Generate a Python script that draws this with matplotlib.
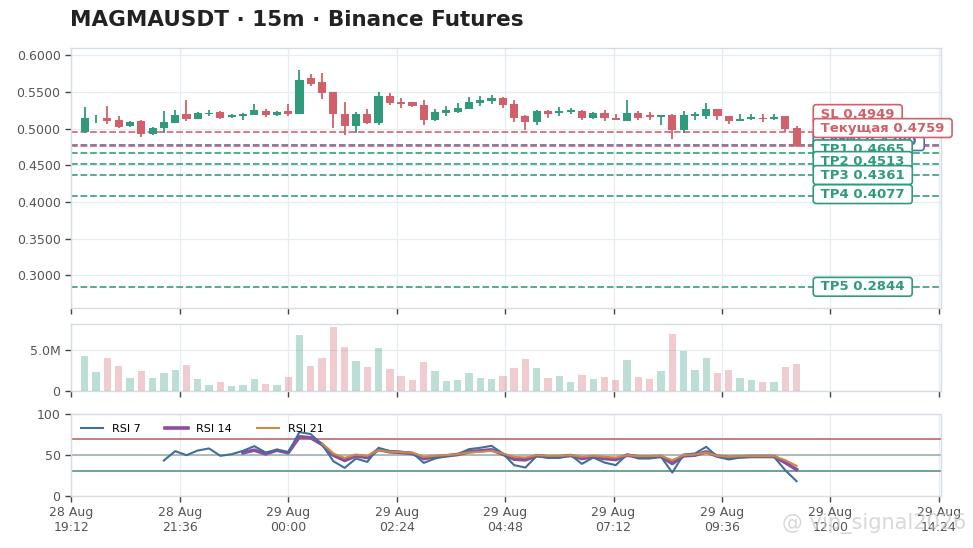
import numpy as np
import pandas as pd
import matplotlib
matplotlib.use("Agg")
import matplotlib.pyplot as plt
import matplotlib.dates as mdates
from matplotlib.ticker import FuncFormatter

# --- DATA ---
times = pd.date_range("2025-08-28 19:30", periods=64, freq="15min")

opens = [0.4955, 0.5141, 0.5150, 0.5114, 0.5032, 0.5100, 0.4923, 0.5014, 0.5082, 0.5195,
         0.5136, 0.5195, 0.5223, 0.5159, 0.5168, 0.5191, 0.5241, 0.5191, 0.5236, 0.5205,
         0.5695, 0.5636, 0.5500, 0.5205, 0.5032, 0.5205, 0.5082, 0.5441, 0.5364, 0.5359,
         0.5327, 0.5114, 0.5214, 0.5227, 0.5273, 0.5350, 0.5373, 0.5423, 0.5341, 0.5168,
         0.5091, 0.5241, 0.5214, 0.5223, 0.5241, 0.5150, 0.5214, 0.5141, 0.5105, 0.5214,
         0.5182, 0.5159, 0.5182, 0.4977, 0.5168, 0.5168, 0.5273, 0.5177, 0.5105, 0.5136,
         0.5145, 0.5132, 0.5168, 0.5009]
highs = [0.5295, 0.5182, 0.5309, 0.5168, 0.5105, 0.5114, 0.5023, 0.5236, 0.5250, 0.5395,
         0.5227, 0.5250, 0.5241, 0.5205, 0.5214, 0.5332, 0.5273, 0.5236, 0.5332, 0.5795,
         0.5741, 0.5764, 0.5500, 0.5364, 0.5227, 0.5273, 0.5500, 0.5491, 0.5423, 0.5364,
         0.5386, 0.5273, 0.5305, 0.5350, 0.5432, 0.5441, 0.5464, 0.5432, 0.5395, 0.5182,
         0.5250, 0.5250, 0.5295, 0.5282, 0.5250, 0.5227, 0.5250, 0.5205, 0.5386, 0.5241,
         0.5227, 0.5182, 0.5205, 0.5241, 0.5227, 0.5350, 0.5273, 0.5177, 0.5195, 0.5195,
         0.5195, 0.5195, 0.5168, 0.5032]
lows = [0.4941, 0.5077, 0.5068, 0.5009, 0.5023, 0.4886, 0.4918, 0.4941, 0.5077, 0.5100,
        0.5132, 0.5173, 0.5136, 0.5150, 0.5123, 0.5182, 0.5159, 0.5177, 0.5173, 0.5205,
        0.5577, 0.5409, 0.5014, 0.4918, 0.4941, 0.5068, 0.5055, 0.5327, 0.5286, 0.5295,
        0.5055, 0.5105, 0.5177, 0.5214, 0.5264, 0.5309, 0.5332, 0.5286, 0.5091, 0.4977,
        0.5055, 0.5150, 0.5168, 0.5205, 0.5123, 0.5136, 0.5105, 0.5114, 0.5105, 0.5123,
        0.5114, 0.5045, 0.4864, 0.4941, 0.5123, 0.5136, 0.5123, 0.5059, 0.5105, 0.5114,
        0.5086, 0.5123, 0.4955, 0.4750]
closes = [0.5150, 0.5145, 0.5105, 0.5023, 0.5095, 0.4932, 0.5014, 0.5091, 0.5191, 0.5127,
          0.5214, 0.5218, 0.5150, 0.5186, 0.5205, 0.5250, 0.5191, 0.5227, 0.5195, 0.5668,
          0.5614, 0.5491, 0.5195, 0.5032, 0.5205, 0.5082, 0.5441, 0.5350, 0.5341, 0.5314,
          0.5114, 0.5227, 0.5250, 0.5286, 0.5364, 0.5386, 0.5418, 0.5327, 0.5150, 0.5091,
          0.5241, 0.5205, 0.5241, 0.5250, 0.5150, 0.5214, 0.5145, 0.5114, 0.5218, 0.5150,
          0.5159, 0.5182, 0.4986, 0.5182, 0.5205, 0.5273, 0.5168, 0.5105, 0.5132, 0.5159,
          0.5127, 0.5159, 0.5000, 0.4759]
volume_m = [4.30, 2.34, 4.06, 3.07, 1.60, 2.46, 1.60, 2.25, 2.58, 3.20,
            1.48, 0.74, 1.11, 0.57, 0.74, 1.48, 0.86, 0.74, 1.72, 6.89,
            3.07, 4.06, 7.83, 5.41, 3.69, 2.95, 5.29, 2.70, 1.84, 1.35,
            3.57, 2.46, 1.23, 1.35, 2.21, 1.60, 1.48, 1.84, 2.83, 3.93,
            2.83, 1.60, 1.84, 1.11, 1.97, 1.48, 1.72, 1.35, 3.81, 1.72,
            1.48, 2.46, 7.01, 4.92, 2.58, 4.06, 2.21, 2.58, 1.60, 1.35,
            1.11, 1.11, 2.95, 3.32]

nan = np.nan
rsi7 = [nan] * 7 + [43.3, 54.7, 49.8, 55.5, 58.0, 49.0, 51.0, 55.1, 60.8, 53.1, 55.9, 53.1,
                    78.0, 75.5, 62.9, 42.4, 34.3, 45.7, 41.6, 58.8, 54.7, 53.9, 52.7, 40.4,
                    45.7, 48.6, 51.0, 57.1, 58.8, 61.2, 51.8, 37.6, 34.7, 49.0, 46.5, 46.5,
                    49.8, 39.2, 46.9, 40.8, 37.6, 50.6, 45.7, 45.7, 47.8, 28.6, 50.6, 51.8,
                    60.0, 47.8, 44.5, 46.9, 47.8, 47.8, 47.8, 31.4, 18.0]
rsi14 = [nan] * 14 + [52.7, 55.9, 51.4, 55.9, 52.7, 72.2, 71.0, 62.9, 49.8, 43.3, 49.0, 46.9,
                      56.7, 53.9, 53.1, 51.8, 45.7, 47.8, 49.0, 50.6, 53.9, 55.1, 56.3, 51.0,
                      44.9, 44.1, 49.0, 47.8, 47.8, 49.4, 45.7, 47.8, 45.7, 44.5, 49.8, 47.8,
                      47.8, 48.2, 39.6, 49.0, 49.8, 53.9, 48.6, 46.9, 47.8, 48.2, 48.2, 48.2,
                      40.8, 32.2]
rsi21 = [nan] * 21 + [64.1, 51.8, 46.5, 50.6, 49.0, 55.9, 53.9, 53.5, 52.7, 47.8, 49.0, 49.8,
                      51.0, 53.1, 53.9, 55.1, 51.8, 47.8, 46.9, 49.8, 49.0, 49.0, 49.8, 47.8,
                      49.0, 47.8, 46.9, 49.8, 48.6, 48.6, 49.0, 43.7, 49.8, 50.6, 53.1, 49.0,
                      47.8, 48.6, 48.6, 48.6, 48.6, 43.7, 36.7]

level_names = ["SL", "Entry", "TP1", "TP2", "TP3", "TP4", "TP5", "Текущая"]
level_values = [0.4949, 0.4780, 0.4665, 0.4513, 0.4361, 0.4077, 0.2844, 0.4759]

# --- STYLE ---
GREEN = "#2f9b7b"
RED = "#d1606b"
BLUE = "#4a6fb0"
GRID = "#e6edf1"
SPINE = "#d3dde3"
TXT = "#555555"
level_colors = [RED, BLUE, GREEN, GREEN, GREEN, GREEN, GREEN, RED]
# label boxes are nudged apart so they do not pile up
label_y = [0.5198, 0.4829, 0.4716, 0.4557, 0.4366, 0.4106, 0.2842, 0.5007]

x = mdates.date2num(times)
step = 1 / 96  # 15 minutes in days
o = np.array(opens); c = np.array(closes)
up = c >= o
cols = np.where(up, GREEN, RED)

fig = plt.figure(figsize=(9.73, 5.48), dpi=100)
ax_p = fig.add_axes([0.073, 0.438, 0.894, 0.4739])
ax_v = fig.add_axes([0.073, 0.2865, 0.894, 0.1223], sharex=ax_p)
ax_r = fig.add_axes([0.073, 0.0949, 0.894, 0.1496], sharex=ax_p)

fig.text(0.072, 0.963, "MAGMAUSDT · 15m · Binance Futures", fontsize=15.5,
         fontweight="bold", color="#222222", va="center", ha="left")

# 1. CANDLES
body_lo = np.minimum(o, c)
body_h = np.maximum(np.abs(c - o), 0.0007)
ax_p.vlines(x, lows, highs, colors=cols, lw=1.3, zorder=3)
ax_p.bar(x, body_h, bottom=body_lo, width=step * 0.72, color=cols, zorder=4)

for name, val, col in zip(level_names, level_values, level_colors):
    ax_p.axhline(val, color=col, ls="--", lw=1.3, alpha=0.9, zorder=2)

lab_x = x[-1] + 26 / 1440
for i, (name, val, col) in enumerate(zip(level_names, level_values, level_colors)):
    ax_p.text(lab_x, label_y[i], f" {name} {val:.4f} ", ha="left", va="center",
              fontsize=9.5, fontweight="bold", color=col, zorder=10 + i,
              bbox=dict(boxstyle="round,pad=0.22", fc="white", ec=col, lw=1.2))

ax_p.set_ylim(0.2553, 0.6095)
ax_p.set_yticks(np.arange(0.30, 0.601, 0.05))
ax_p.yaxis.set_major_formatter(FuncFormatter(lambda v, _: f"{v:.4f}"))

# 2. VOLUME
ax_v.bar(x, volume_m, width=step * 0.65, color=cols, alpha=0.32, zorder=3)
ax_v.set_ylim(0, 8.24)
ax_v.set_yticks([0, 5])
ax_v.yaxis.set_major_formatter(FuncFormatter(lambda v, _: "0" if v == 0 else f"{v:.1f}M"))

# 3. RSI
ax_r.axhline(70, color="#c97078", lw=1.3, zorder=2)
ax_r.axhline(50, color="#9aaab2", lw=1.1, zorder=2)
ax_r.axhline(30, color="#5f9e90", lw=1.3, zorder=2)
ax_r.plot(x, rsi7, color="#3f6f9a", lw=1.5, label="RSI 7", zorder=4)
ax_r.plot(x, rsi14, color="#8a4f9e", lw=2.6, label="RSI 14", zorder=3)
ax_r.plot(x, rsi21, color="#cc8a42", lw=1.5, label="RSI 21", zorder=5)
ax_r.set_ylim(0, 100)
ax_r.set_yticks([0, 50, 100])
ax_r.legend(loc="upper left", ncol=3, frameon=False, fontsize=8, columnspacing=2.2)

# x axis: ticks every 2h24m
t_start = pd.Timestamp("2025-08-28 19:12")
ticks = mdates.date2num([t_start + pd.Timedelta(minutes=144 * k) for k in range(9)])
ax_r.set_xticks(ticks)
ax_r.xaxis.set_major_formatter(mdates.DateFormatter("%d %b\n%H:%M"))
ax_r.set_xlim(x[0] - 18.3 / 1440, x[-1] + 191.6 / 1440)

for ax in (ax_p, ax_v, ax_r):
    ax.set_facecolor("white")
    ax.grid(True, color=GRID, lw=0.9, zorder=0)
    ax.set_axisbelow(True)
    for s in ax.spines.values():
        s.set_color(SPINE)
        s.set_linewidth(1.0)
    ax.tick_params(axis="both", colors="#444444", labelcolor=TXT, labelsize=9,
                   length=4, width=1, direction="out")
for ax in (ax_p, ax_v):
    ax.tick_params(labelbottom=False)

# watermark in the corner of the screenshot
fig.text(0.993, 0.045, "@ vip_signal2026", ha="right", va="center", fontsize=15,
         color="#c8c8c8", alpha=0.7)

fig.savefig("out.png", dpi=100)
plt.close(fig)
